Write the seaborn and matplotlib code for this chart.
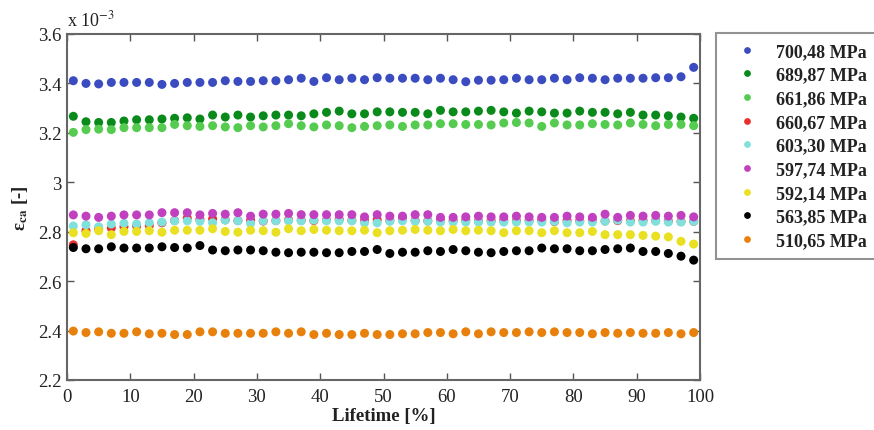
import numpy as np
import pandas as pd
import matplotlib
matplotlib.use("Agg")
import matplotlib.pyplot as plt
import seaborn as sns

lifetime = list(range(1, 100, 2))

labels = ["700,48 MPa", "689,87 MPa", "661,86 MPa", "660,67 MPa", "603,30 MPa",
          "597,74 MPa", "592,14 MPa", "563,85 MPa", "510,65 MPa"]
colors = ["#3a4cc0", "#0a8a1a", "#55cc50", "#e8302a", "#80e0dc",
          "#c040c0", "#e8e020", "#000000", "#e8800c"]

s700 = [3.411, 3.400, 3.398, 3.404, 3.404, 3.404, 3.404, 3.396, 3.400, 3.404, 3.404, 3.404, 3.411,
        3.408, 3.408, 3.411, 3.411, 3.415, 3.421, 3.408, 3.423, 3.415, 3.421, 3.415, 3.423, 3.421,
        3.421, 3.421, 3.415, 3.421, 3.415, 3.407, 3.413, 3.413, 3.415, 3.421, 3.415, 3.415, 3.421,
        3.415, 3.423, 3.421, 3.415, 3.421, 3.421, 3.421, 3.423, 3.423, 3.427, 3.441]
s700 = s700[:49] + [3.465]
s689 = [3.267, 3.245, 3.242, 3.242, 3.248, 3.253, 3.253, 3.256, 3.259, 3.261, 3.256, 3.272, 3.264,
        3.272, 3.264, 3.269, 3.272, 3.272, 3.269, 3.277, 3.283, 3.288, 3.277, 3.277, 3.285, 3.285,
        3.283, 3.283, 3.277, 3.291, 3.285, 3.285, 3.288, 3.291, 3.285, 3.280, 3.288, 3.285, 3.280,
        3.280, 3.288, 3.283, 3.283, 3.277, 3.283, 3.272, 3.272, 3.269, 3.264, 3.259]
s661 = [3.202, 3.213, 3.215, 3.213, 3.221, 3.221, 3.221, 3.221, 3.234, 3.229, 3.226, 3.229, 3.224,
        3.221, 3.229, 3.224, 3.229, 3.237, 3.229, 3.224, 3.232, 3.229, 3.221, 3.226, 3.229, 3.232,
        3.226, 3.232, 3.232, 3.237, 3.237, 3.234, 3.234, 3.232, 3.240, 3.242, 3.240, 3.226, 3.240,
        3.232, 3.232, 3.237, 3.234, 3.232, 3.240, 3.234, 3.229, 3.234, 3.234, 3.229]
s660 = [2.747, 2.804, 2.812, 2.815, 2.820, 2.823, 2.825, 2.836, 2.845, 2.855, 2.850, 2.852, 2.848,
        2.845, 2.846, 2.843, 2.845, 2.848, 2.846, 2.845, 2.847, 2.850, 2.846, 2.845, 2.848, 2.846,
        2.852, 2.845, 2.844, 2.846, 2.845, 2.847, 2.843, 2.845, 2.846, 2.844, 2.845, 2.848, 2.841,
        2.845, 2.844, 2.846, 2.843, 2.845, 2.844, 2.846, 2.845, 2.843, 2.841, 2.842]
s603 = [2.823, 2.828, 2.820, 2.831, 2.834, 2.831, 2.836, 2.839, 2.844, 2.844, 2.842, 2.836, 2.847,
        2.844, 2.834, 2.844, 2.844, 2.844, 2.844, 2.847, 2.844, 2.844, 2.844, 2.836, 2.836, 2.842,
        2.844, 2.842, 2.842, 2.839, 2.839, 2.839, 2.839, 2.839, 2.839, 2.839, 2.839, 2.839, 2.842,
        2.836, 2.839, 2.839, 2.842, 2.847, 2.839, 2.839, 2.842, 2.839, 2.839, 2.842]
s597 = [2.868, 2.863, 2.858, 2.863, 2.868, 2.868, 2.868, 2.877, 2.877, 2.877, 2.868, 2.874, 2.871,
        2.877, 2.863, 2.871, 2.871, 2.874, 2.869, 2.869, 2.869, 2.869, 2.869, 2.860, 2.869, 2.863,
        2.863, 2.869, 2.869, 2.858, 2.858, 2.860, 2.863, 2.860, 2.860, 2.863, 2.860, 2.858, 2.858,
        2.863, 2.860, 2.858, 2.871, 2.858, 2.866, 2.863, 2.866, 2.863, 2.866, 2.860]
s592 = [2.796, 2.793, 2.804, 2.788, 2.801, 2.801, 2.804, 2.798, 2.806, 2.806, 2.806, 2.812, 2.801,
        2.798, 2.806, 2.804, 2.798, 2.812, 2.804, 2.809, 2.806, 2.804, 2.804, 2.806, 2.796, 2.804,
        2.806, 2.809, 2.806, 2.804, 2.809, 2.804, 2.806, 2.804, 2.796, 2.804, 2.804, 2.796, 2.804,
        2.796, 2.796, 2.801, 2.788, 2.788, 2.788, 2.785, 2.782, 2.779, 2.761, 2.750]
s563 = [2.736, 2.731, 2.731, 2.739, 2.734, 2.734, 2.734, 2.739, 2.736, 2.734, 2.744, 2.726, 2.723,
        2.726, 2.726, 2.723, 2.717, 2.715, 2.717, 2.717, 2.715, 2.715, 2.720, 2.720, 2.728, 2.712,
        2.717, 2.717, 2.723, 2.720, 2.728, 2.723, 2.717, 2.715, 2.720, 2.723, 2.723, 2.734, 2.731,
        2.731, 2.723, 2.723, 2.728, 2.731, 2.734, 2.720, 2.720, 2.712, 2.701, 2.685]
s510 = [2.398, 2.392, 2.395, 2.389, 2.389, 2.395, 2.387, 2.389, 2.384, 2.384, 2.395, 2.395, 2.389,
        2.389, 2.389, 2.389, 2.395, 2.389, 2.395, 2.384, 2.389, 2.384, 2.384, 2.389, 2.384, 2.384,
        2.387, 2.387, 2.392, 2.392, 2.387, 2.395, 2.387, 2.395, 2.392, 2.392, 2.395, 2.392, 2.395,
        2.392, 2.392, 2.387, 2.392, 2.389, 2.392, 2.389, 2.389, 2.392, 2.387, 2.392]

series = [s700, s689, s661, s660, s603, s597, s592, s563, s510]

yticks = [2.2, 2.4, 2.6, 2.8, 3.0, 3.2, 3.4, 3.6]
ytick_labels = ["2.2", "2.4", "2.6", "2.8", "3", "3.2", "3.4", "3.6"]
xticks = [0, 10, 20, 30, 40, 50, 60, 70, 80, 90, 100]

frames = []
for lab, vals in zip(labels, series):
    frames.append(pd.DataFrame({"Lifetime": lifetime, "eps": vals, "series": lab}))
df = pd.concat(frames, ignore_index=True)

sns.set_style("ticks")
plt.rcParams["font.family"] = ["Liberation Serif", "DejaVu Serif"]
plt.rcParams["mathtext.fontset"] = "stix"

fig = plt.figure(figsize=(8.74, 4.31), dpi=100)
ax = fig.add_axes([67 / 874, 1 - 381 / 431, (700 - 67) / 874, (381 - 35) / 431])

sns.scatterplot(data=df, x="Lifetime", y="eps", hue="series", hue_order=labels,
                palette=dict(zip(labels, colors)), s=42, linewidth=0, ax=ax, legend=True)

ax.set_xlim(0, 100)
ax.set_ylim(2.2, 3.6)
ax.set_xticks(xticks)
ax.set_xticklabels([str(t) for t in xticks])
ax.set_yticks(yticks)
ax.set_yticklabels(ytick_labels)
ax.tick_params(direction="in", length=5, width=1, colors="#555555", labelcolor="#222222",
               labelsize=13.5, top=True, right=True)
ax.tick_params(axis="x", pad=6)
ax.tick_params(axis="y", pad=4)
for sp in ax.spines.values():
    sp.set_color("#666666")
    sp.set_linewidth(1.5)

ax.set_xlabel("Lifetime [%]", fontsize=13.5, fontweight="bold", color="#222222", labelpad=1)
ax.set_ylabel(r"ε$_{\mathbf{ca}}$ [-]", fontsize=13.5, fontweight="bold", color="#222222", labelpad=6)
ax.text(0.0, 1.012, r"x 10$^{-3}$", transform=ax.transAxes, fontsize=13, color="#222222",
        ha="left", va="bottom")

handles, _ = ax.get_legend_handles_labels()
leg = ax.legend(handles, labels, loc="upper left", bbox_to_anchor=(716 / 874, 1 - 34 / 431),
                bbox_transform=fig.transFigure, frameon=True, fancybox=False,
                prop={"family": "Liberation Serif", "weight": "bold", "size": 13},
                handletextpad=0.5, labelspacing=0.37, borderpad=0.55, handlelength=2.3,
                markerscale=0.75, borderaxespad=0)
leg.get_frame().set_edgecolor("#777777")
leg.get_frame().set_linewidth(1.5)
for t in leg.get_texts():
    t.set_color("#222222")

fig.savefig("out.png", dpi=100)
